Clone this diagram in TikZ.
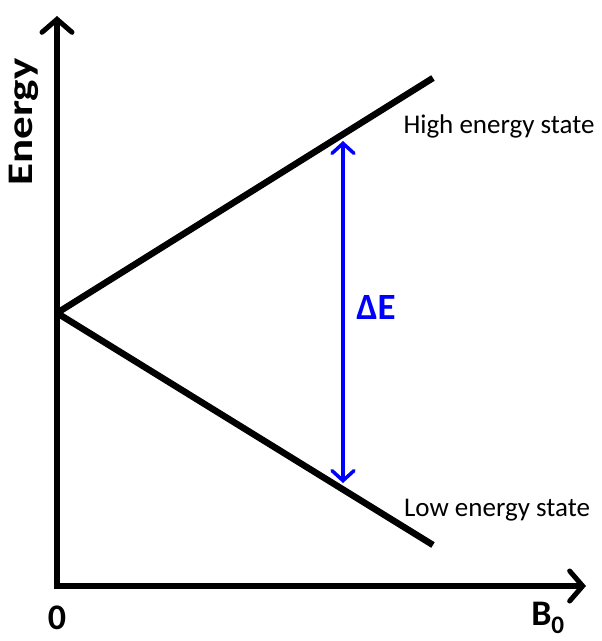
\documentclass[tikz,border=0pt]{standalone}
\usepackage{fontspec}
\setmainfont{Carlito}
\usetikzlibrary{arrows.meta}

\begin{document}
\begin{tikzpicture}[
    x=1pt,
    y=-1pt,
    axis/.style={
        line width=6.5pt,
        -{Straight Barb[length=13pt,width=30pt,line width=5pt,line cap=round]}
    },
    level/.style={line width=6.5pt},
    gap/.style={
        blue,
        line width=3.5pt,
        {Straight Barb[length=10pt,width=22pt,line width=3.5pt,line cap=round]}-{Straight Barb[length=10pt,width=22pt,line width=3.5pt,line cap=round]}
    },
    statelabel/.style={font=\fontsize{27}{32}\selectfont},
    ticklabel/.style={font=\fontsize{36}{40}\selectfont\bfseries}
]
\useasboundingbox (0,0) rectangle (602,641);

% ============================================================
% AXES
% ============================================================
\coordinate (origin) at (57,586);
\coordinate (ytip) at (57,16);
\coordinate (xtip) at (586,586);

\draw[axis] ([yshift=3.25pt]origin) -- (ytip);
\draw[axis] ([xshift=-3.25pt]origin) -- (xtip);

\node[ticklabel] (zero) at (57,618) {0};
\node[ticklabel] (bfield) at (548,618) {B\textsubscript{0}};
\node[ticklabel, rotate=90] (energy) at (24,122) {\scalebox{1.25}[1]{Energy}};

% ============================================================
% ZEEMAN SPLITTING
% ============================================================
\coordinate (split) at (57,313);
\coordinate (highend) at (433,78);
\coordinate (lowend) at (433,545);

\draw[level] (split) -- (highend);
\draw[level] (split) -- (lowend);

\node[statelabel] (high) at (499,126) {High energy state};
\node[statelabel] (low) at (497,510) {Low energy state};

% ============================================================
% ENERGY GAP
% ============================================================
\coordinate (gaptop) at (343,141);
\coordinate (gapbot) at (343,483);

\draw[gap] (gaptop) -- (gapbot);
\node[blue, font=\fontsize{37}{40}\selectfont\bfseries] (delta) at (376,307) {ΔE};

\end{tikzpicture}
\end{document}
